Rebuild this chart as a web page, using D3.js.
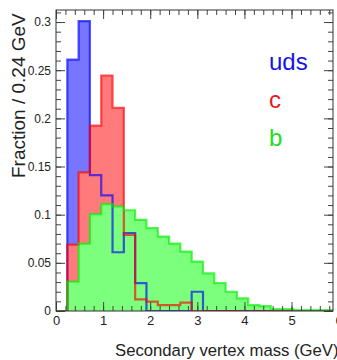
<!DOCTYPE html>
<html>
<head>
<meta charset="utf-8">
<script src="https://cdn.jsdelivr.net/npm/d3@7"></script>
<style>
  body { margin: 0; background: #fff; }
  svg { display: block; font-family: "Liberation Sans", Arial, sans-serif; }
</style>
</head>
<body>
<svg id="chart" width="337" height="360"></svg>
<script>
// bins of 0.24 GeV starting at 0
const binWidth = 0.24;
const udsFrac = [0, 0.261, 0.301, 0.141, 0.120, 0.061, 0.081, 0.029, 0, 0, 0, 0, 0.020,
  0, 0, 0, 0, 0, 0, 0, 0, 0, 0, 0, 0];
const cFrac = [0, 0.069, 0.144, 0.1925, 0.2445, 0.211, 0.079, 0.012, 0.0097, 0.006, 0.006, 0.0086, 0,
  0, 0, 0, 0, 0, 0, 0, 0, 0, 0, 0, 0];
const bFrac = [0, 0.0305, 0.070, 0.1006, 0.111, 0.1085, 0.1046, 0.0947, 0.086, 0.0773, 0.070, 0.0617, 0.0513,
  0.039, 0.029, 0.020, 0.0132, 0.0062, 0.005, 0.002, 0.002, 0.001, 0.001, 0.001, 0.001];

const flavours = ["uds", "c", "b"];
const xTicks = [0, 1, 2, 3, 4, 5, 6];
const yTicks = [0, 0.05, 0.1, 0.15, 0.2, 0.25, 0.3];
const yTickLabels = ["0", "0.05", "0.1", "0.15", "0.2", "0.25", "0.3"];

const series = [
  { name: "uds", values: udsFrac, fill: "#7676ff", line: "#0000ff", text: "#1414e6" },
  { name: "c", values: cFrac, fill: "#ff7b7b", line: "#ff0000", text: "#e61a1a" },
  { name: "b", values: bFrac, fill: "#7cff7c", line: "#00ee00", text: "#22dd22" },
];

const margin = { top: 10, right: 4, bottom: 49, left: 56 };
const width = 337 - margin.left - margin.right;
const height = 360 - margin.top - margin.bottom;

const svg = d3.select("#chart");

const x = d3.scaleLinear().domain([0, 5.88]).range([0, width]);
const y = d3.scaleLinear().domain([0, 0.3125]).range([height, 0]);

const g = svg.append("g").attr("transform", `translate(${margin.left},${margin.top})`);

g.append("clipPath").attr("id", "frame-clip")
  .append("rect").attr("width", width).attr("height", height);

// step points: each bin value starts at its lower edge, repeat last at upper edge
function steps(values) {
  const pts = values.map((v, i) => [i * binWidth, v]);
  pts.push([values.length * binWidth, values[values.length - 1]]);
  return [[0, 0], ...pts, [values.length * binWidth, 0]];
}

const area = d3.area()
  .x((d) => x(d[0]))
  .y0(y(0))
  .y1((d) => y(d[1]))
  .curve(d3.curveStepAfter);

const line = d3.line()
  .x((d) => x(d[0]))
  .y((d) => y(d[1]))
  .curve(d3.curveStepAfter);

const plot = g.append("g").attr("clip-path", "url(#frame-clip)");

plot.selectAll("path.fill")
  .data(series)
  .join("path")
  .attr("class", "fill")
  .attr("d", (d) => area(steps(d.values)))
  .attr("fill", (d) => d.fill);

plot.selectAll("path.outline")
  .data(series)
  .join("path")
  .attr("class", "outline")
  .attr("d", (d) => line(steps(d.values)))
  .attr("fill", "none")
  .attr("stroke", (d) => d.line)
  .attr("stroke-opacity", 0.65)
  .attr("stroke-width", 2.2);

// axes, ticks pointing into the frame like ROOT
function styleAxis(sel) {
  sel.select(".domain").remove();
  sel.selectAll(".tick line").attr("stroke", "#444");
  sel.selectAll("text")
    .attr("fill", "#222")
    .attr("font-family", "Liberation Sans, Arial, sans-serif");
}

const xMinor = d3.range(0, 5.9, 0.2);
const yMinor = d3.range(0, 0.311, 0.01);

g.append("g").attr("transform", `translate(0,${height})`)
  .call(d3.axisBottom(x).tickValues(xMinor).tickSize(-5).tickFormat(""))
  .call(styleAxis);
g.append("g").attr("transform", `translate(0,${height})`)
  .call(d3.axisBottom(x).tickValues(xTicks).tickSize(-9).tickPadding(5).tickFormat(d3.format("d")))
  .call(styleAxis)
  .selectAll("text").attr("font-size", 13);

g.append("g")
  .call(d3.axisTop(x).tickValues(xMinor).tickSize(-5).tickFormat(""))
  .call(styleAxis);
g.append("g")
  .call(d3.axisTop(x).tickValues(xTicks.filter((t) => t <= 5.88)).tickSize(-9).tickFormat(""))
  .call(styleAxis);

g.append("g")
  .call(d3.axisLeft(y).tickValues(yMinor).tickSize(-5).tickFormat(""))
  .call(styleAxis);
g.append("g")
  .call(d3.axisLeft(y).tickValues(yTicks).tickSize(-9).tickPadding(5)
    .tickFormat((d, i) => yTickLabels[i]))
  .call(styleAxis)
  .selectAll("text").attr("font-size", 12);

g.append("g").attr("transform", `translate(${width},0)`)
  .call(d3.axisRight(y).tickValues(yMinor).tickSize(-5).tickFormat(""))
  .call(styleAxis);
g.append("g").attr("transform", `translate(${width},0)`)
  .call(d3.axisRight(y).tickValues(yTicks).tickSize(-9).tickFormat(""))
  .call(styleAxis);

g.append("rect")
  .attr("width", width)
  .attr("height", height)
  .attr("fill", "none")
  .attr("stroke", "#333")
  .attr("stroke-width", 1);

// legend
g.selectAll("text.legend")
  .data(series)
  .join("text")
  .attr("class", "legend")
  .attr("x", 213)
  .attr("y", (d, i) => 60 + i * 38)
  .attr("font-size", 24)
  .attr("fill", (d) => d.text)
  .text((d, i) => flavours[i]);

// axis titles
svg.append("text")
  .attr("x", 115)
  .attr("y", 356)
  .attr("font-size", 16.7)
  .attr("fill", "#222")
  .text("Secondary vertex mass (GeV)");

svg.append("text")
  .attr("transform", "translate(25,178) rotate(-90)")
  .attr("font-size", 19)
  .attr("fill", "#222")
  .text("Fraction / 0.24 GeV");
</script>
</body>
</html>
